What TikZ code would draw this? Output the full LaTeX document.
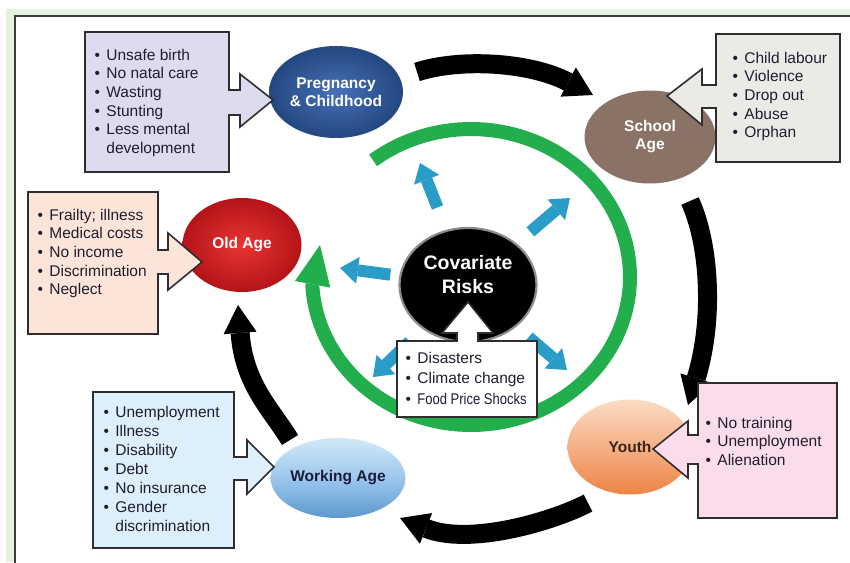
\documentclass[tikz,border=0pt]{standalone}
\usepackage{fontspec}
\setmainfont{Liberation Sans}
\usepackage{graphicx}
\usetikzlibrary{shapes.geometric,arrows.meta}
\definecolor{pagegreen}{HTML}{E6F2E0}
\definecolor{frameline}{HTML}{3C3C3C}
\definecolor{boxline}{HTML}{2E2E2E}
\definecolor{pregfill}{HTML}{DCDCEE}
\definecolor{schoolfill}{HTML}{ECEAE7}
\definecolor{oldfill}{HTML}{FCE5D8}
\definecolor{workfill}{HTML}{DDEFFA}
\definecolor{youthfill}{HTML}{FADCEA}
\definecolor{itemtext}{HTML}{1E1E30}
\definecolor{ringgreen}{HTML}{22AE4C}
\definecolor{arrowblue}{HTML}{2A9CC8}
\definecolor{riskrim}{HTML}{8C8C8C}
\definecolor{pregin}{HTML}{4572B8}
\definecolor{pregedge}{HTML}{24477F}
\definecolor{schoolbrown}{HTML}{8A7366}
\definecolor{oldin}{HTML}{E83434}
\definecolor{oldedge}{HTML}{B41418}
\definecolor{worktop}{HTML}{D2E8F8}
\definecolor{workmid}{HTML}{9CC7EC}
\definecolor{workbot}{HTML}{5C98CF}
\definecolor{worktext}{HTML}{1C1C3C}
\definecolor{youthtop}{HTML}{FBDCC4}
\definecolor{youthbot}{HTML}{EE8446}
\definecolor{youthtext}{HTML}{3A2414}
\newcommand{\risklist}[1]{\begin{tabular}[t]{@{}l@{\hskip 6.5pt}l@{}}#1\end{tabular}}
\tikzset{
  items/.style={anchor=base west, inner sep=0pt, text=itemtext, font=\fontsize{15.5}{18.7}\selectfont},
  callout/.style={draw=boxline, line width=1.6pt, line join=miter},
  stage/.style={ellipse, inner sep=0pt, text=white, align=center, font=\fontsize{15.5}{18}\selectfont\bfseries},
  blackarrow/.style={line width=19pt, -{Triangle[length=28pt,width=33pt,line width=0pt 0]}},
  bluearrow/.style={arrowblue, line width=12pt, -{Triangle[length=18pt,width=27pt,line width=0pt 0]}},
  greenring/.style={ringgreen, line width=14pt, -{Triangle[length=40pt,width=36pt,line width=0pt 0]}}
}
\begin{document}
\begin{tikzpicture}[x=1pt, y=-1pt, samples=120]
\useasboundingbox (0,0) rectangle (850,562);
% background and frame
\fill[pagegreen] (6,9) rectangle (850,562);
\draw[fill=white, draw=frameline, line width=1.6pt] (15,16) rectangle (880,590);

% green ring round the centre
\coordinate (ringtip) at (320,245);
\draw[greenring] plot[domain=128:-176.5] ({471+159*cos(\x)},{277-148*sin(\x)}) -- (ringtip);

% covariate risks
\node[ellipse, fill=black, draw=riskrim, line width=2.2pt, minimum width=137pt, minimum height=114pt] (risk) at (468,285) {};
\node[text=white, align=center, font=\fontsize{19.5}{24}\selectfont\bfseries] (risktext) at (468,275) {Covariate\\Risks};
\coordinate (ulhead) at (420,163);
\coordinate (urhead) at (570,198);
\coordinate (lhead) at (340,268);
\coordinate (dlhead) at (373,377);
\coordinate (drhead) at (567,370);
\foreach \tip/\gap in {ulhead/24, urhead/18, lhead/9, dlhead/18, drhead/16}
  \draw[bluearrow, shorten <=\gap pt] (risk) -- (\tip);

% shocks
\draw[callout, fill=white] (397,341) -- (457,341) -- (457,333) -- (442,333) -- (468,302) -- (493,333) -- (478,333) -- (478,341) -- (537,341) -- (537,417) -- (397,417) -- cycle;
\node[items, font=\fontsize{15.5}{20.5}\selectfont] (shocks) at (405.3,363) {\risklist{\textbullet & Disasters\\ \textbullet & Climate change\\ \textbullet & \scalebox{0.84}[1]{Food Price Shocks}}};

% life stages
\node[stage, shade, inner color=pregin, outer color=pregedge, minimum width=134pt, minimum height=92pt] (preg) at (336,92) {Pregnancy\\\& Childhood};
\node[stage, fill=schoolbrown, minimum width=131pt, minimum height=93pt] (school) at (650,137) {School\\Age};
\node[stage, shade, inner color=oldin, outer color=oldedge, minimum width=119pt, minimum height=94pt] (old) at (242,245) {Old Age};
\node[stage, shade, top color=worktop, bottom color=workbot, middle color=workmid, text=worktext, minimum width=133pt, minimum height=80pt] (work) at (338,478) {Working Age};
\node[stage, shade, top color=youthtop, bottom color=youthbot, text=youthtext, minimum width=125pt, minimum height=95pt] (youth) at (630,447) {Youth};

% life cycle arrows
\coordinate (fromPreg) at (417,72);
\coordinate (toSchool) at (593,95);
\coordinate (fromSchool) at (690,201);
\coordinate (toYouth) at (688,405);
\coordinate (fromYouth) at (588,503);
\coordinate (toWork) at (400,518);
\coordinate (fromWork) at (290,440);
\coordinate (toOld) at (238,305);
\draw[blackarrow] (fromPreg) .. controls (460,58) and (530,62) .. (toSchool);
\draw[blackarrow] (fromSchool) .. controls (710,245) and (714,320) .. (toYouth);
\draw[blackarrow] (fromYouth) .. controls (554,521) and (470,546) .. (toWork);
\draw[blackarrow] (fromWork) .. controls (272,410) and (244,385) .. (toOld);

% risk boxes
\draw[callout, fill=pregfill] (85,32) -- (229,32) -- (229,90) -- (240,90) -- (240,74) -- (273,100) -- (240,127) -- (240,115) -- (229,115) -- (229,172) -- (85,172) -- cycle;
\node[items] (pregitems) at (94.3,60) {\risklist{\textbullet & Unsafe birth\\ \textbullet & No natal care\\ \textbullet & Wasting\\ \textbullet & Stunting\\ \textbullet & Less mental\\ & development}};

\draw[callout, fill=schoolfill] (716,34) -- (840,34) -- (840,162) -- (716,162) -- (716,108) -- (702,108) -- (702,125) -- (667,96) -- (702,69) -- (702,85) -- (716,85) -- cycle;
\node[items] (schoolitems) at (732.3,63) {\risklist{\textbullet & Child labour\\ \textbullet & Violence\\ \textbullet & Drop out\\ \textbullet & Abuse\\ \textbullet & Orphan}};

\draw[callout, fill=oldfill] (28,192) -- (158,192) -- (158,250) -- (168,250) -- (168,233) -- (202,262) -- (168,290) -- (168,274) -- (158,274) -- (158,334) -- (28,334) -- cycle;
\node[items] (olditems) at (37.3,220) {\risklist{\textbullet & Frailty; illness\\ \textbullet & Medical costs\\ \textbullet & No income\\ \textbullet & Discrimination\\ \textbullet & Neglect}};

\draw[callout, fill=workfill] (93,392) -- (234,392) -- (234,457) -- (247,457) -- (247,440) -- (274,467) -- (247,494) -- (247,480) -- (234,480) -- (234,548) -- (93,548) -- cycle;
\node[items, font=\fontsize{15.5}{19}\selectfont] (workitems) at (103.3,417) {\risklist{\textbullet & Unemployment\\ \textbullet & Illness\\ \textbullet & Disability\\ \textbullet & Debt\\ \textbullet & No insurance\\ \textbullet & Gender\\ & discrimination}};

\draw[callout, fill=youthfill] (698,383) -- (837,383) -- (837,518) -- (698,518) -- (698,464) -- (688,464) -- (688,478) -- (653,449) -- (688,421) -- (688,435) -- (698,435) -- cycle;
\node[items] (youthitems) at (705.3,428) {\risklist{\textbullet & No training\\ \textbullet & Unemployment\\ \textbullet & Alienation}};
\end{tikzpicture}
\end{document}
